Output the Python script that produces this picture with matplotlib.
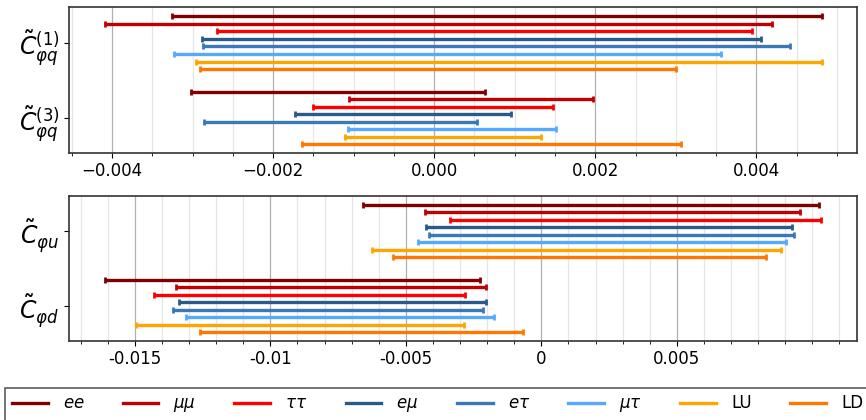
import matplotlib
matplotlib.use("Agg")
import matplotlib.pyplot as plt
from matplotlib.ticker import MultipleLocator, FixedLocator, FuncFormatter
from matplotlib.lines import Line2D
import numpy as np

# Flavour scenarios, top to bottom inside each group
scenarios = [r"$ee$", r"$\mu\mu$", r"$\tau\tau$", r"$e\mu$", r"$e\tau$", r"$\mu\tau$", "LU", "LD"]
colors = ["#7f0000", "#c00000", "#ff0000", "#2a5a8a", "#3a78b8", "#55aaff", "#ffa500", "#ff7700"]

# Operator rows
top_ops = [r"$\tilde{C}_{\varphi q}^{(1)}$", r"$\tilde{C}_{\varphi q}^{(3)}$"]
bot_ops = [r"$\tilde{C}_{\varphi u}$", r"$\tilde{C}_{\varphi d}$"]

# Tick positions for the two panels
top_ticks = [-0.004, -0.002, 0.0, 0.002, 0.004]
bot_ticks = [-0.015, -0.01, -0.005, 0.0, 0.005]

# Allowed intervals (lower, upper) per scenario
cphiq1_lo = [-0.00326, -0.00409, -0.00270, -0.00289, -0.00287, -0.00323, -0.00296, -0.00291]
cphiq1_hi = [0.00481, 0.00420, 0.00395, 0.00406, 0.00442, 0.00356, 0.00481, 0.00300]
cphiq3_lo = [-0.00302, -0.00106, -0.00150, -0.00173, -0.00286, -0.00107, -0.00111, -0.00164]
cphiq3_hi = [0.00063, 0.00197, 0.00147, 0.00095, 0.00053, 0.00151, 0.00133, 0.00307]
cphiu_lo = [-0.00659, -0.00428, -0.00336, -0.00427, -0.00414, -0.00456, -0.00624, -0.00548]
cphiu_hi = [0.01024, 0.00953, 0.01033, 0.00925, 0.00934, 0.00903, 0.00886, 0.00828]
cphid_lo = [-0.01610, -0.01347, -0.01430, -0.01338, -0.01359, -0.01310, -0.01496, -0.01258]
cphid_hi = [-0.00226, -0.00205, -0.00282, -0.00205, -0.00214, -0.00176, -0.00285, -0.00068]

fig = plt.figure(figsize=(8.66, 4.2), dpi=100)
ax1 = fig.add_axes([0.0802, 0.6364, 0.9094, 0.3462])
ax2 = fig.add_axes([0.0797, 0.1888, 0.9099, 0.3452])

offsets = (np.arange(len(scenarios)) - 3.5) * 0.1


def draw_group(ax, center, lo, hi):
    for k, (l, h) in enumerate(zip(lo, hi)):
        mid = 0.5 * (l + h)
        ax.errorbar(mid, center + offsets[k], xerr=[[mid - l], [h - mid]],
                    fmt="none", ecolor=colors[k], elinewidth=2.4,
                    capsize=2.2, capthick=2.0, zorder=3)


draw_group(ax1, 0, cphiq1_lo, cphiq1_hi)
draw_group(ax1, 1, cphiq3_lo, cphiq3_hi)
draw_group(ax2, 0, cphiu_lo, cphiu_hi)
draw_group(ax2, 1, cphid_lo, cphid_hi)

for ax, labels in ((ax1, top_ops), (ax2, bot_ops)):
    ax.set_yticks([0, 1])
    ax.set_yticklabels(labels, fontsize=17)
    ax.set_ylim(1.46, -0.47)
    ax.grid(which="major", axis="x", color="#b0b0b0", linewidth=0.9, zorder=0)
    ax.grid(which="minor", axis="x", color="#e6e6e6", linewidth=0.9, zorder=0)
    ax.tick_params(axis="x", labelsize=12)
    for s in ax.spines.values():
        s.set_color("#333333")
        s.set_linewidth(1.2)

ax1.set_xlim(-0.00453, 0.00525)
ax1.xaxis.set_major_locator(FixedLocator(top_ticks))
ax1.xaxis.set_minor_locator(MultipleLocator(0.0005))

ax2.set_xlim(-0.01743, 0.01165)
ax2.xaxis.set_major_locator(FixedLocator(bot_ticks))
ax2.xaxis.set_minor_locator(MultipleLocator(0.001))
ax2.xaxis.set_major_formatter(FuncFormatter(lambda v, p: "0" if abs(v) < 1e-12 else "{:g}".format(round(v, 6))))

handles = [Line2D([0], [0], color=c, linewidth=2.4) for c in colors]
leg = fig.legend(handles, scenarios, loc="upper left", bbox_to_anchor=(0.0058, 0.0769),
                 ncol=8, fontsize=12, frameon=True, fancybox=False,
                 edgecolor="#333333", handlelength=2.15, handletextpad=0.9,
                 columnspacing=2.3, borderpad=0.4, borderaxespad=0.0)
leg.get_frame().set_linewidth(1.2)

fig.savefig("out.png", dpi=100)
